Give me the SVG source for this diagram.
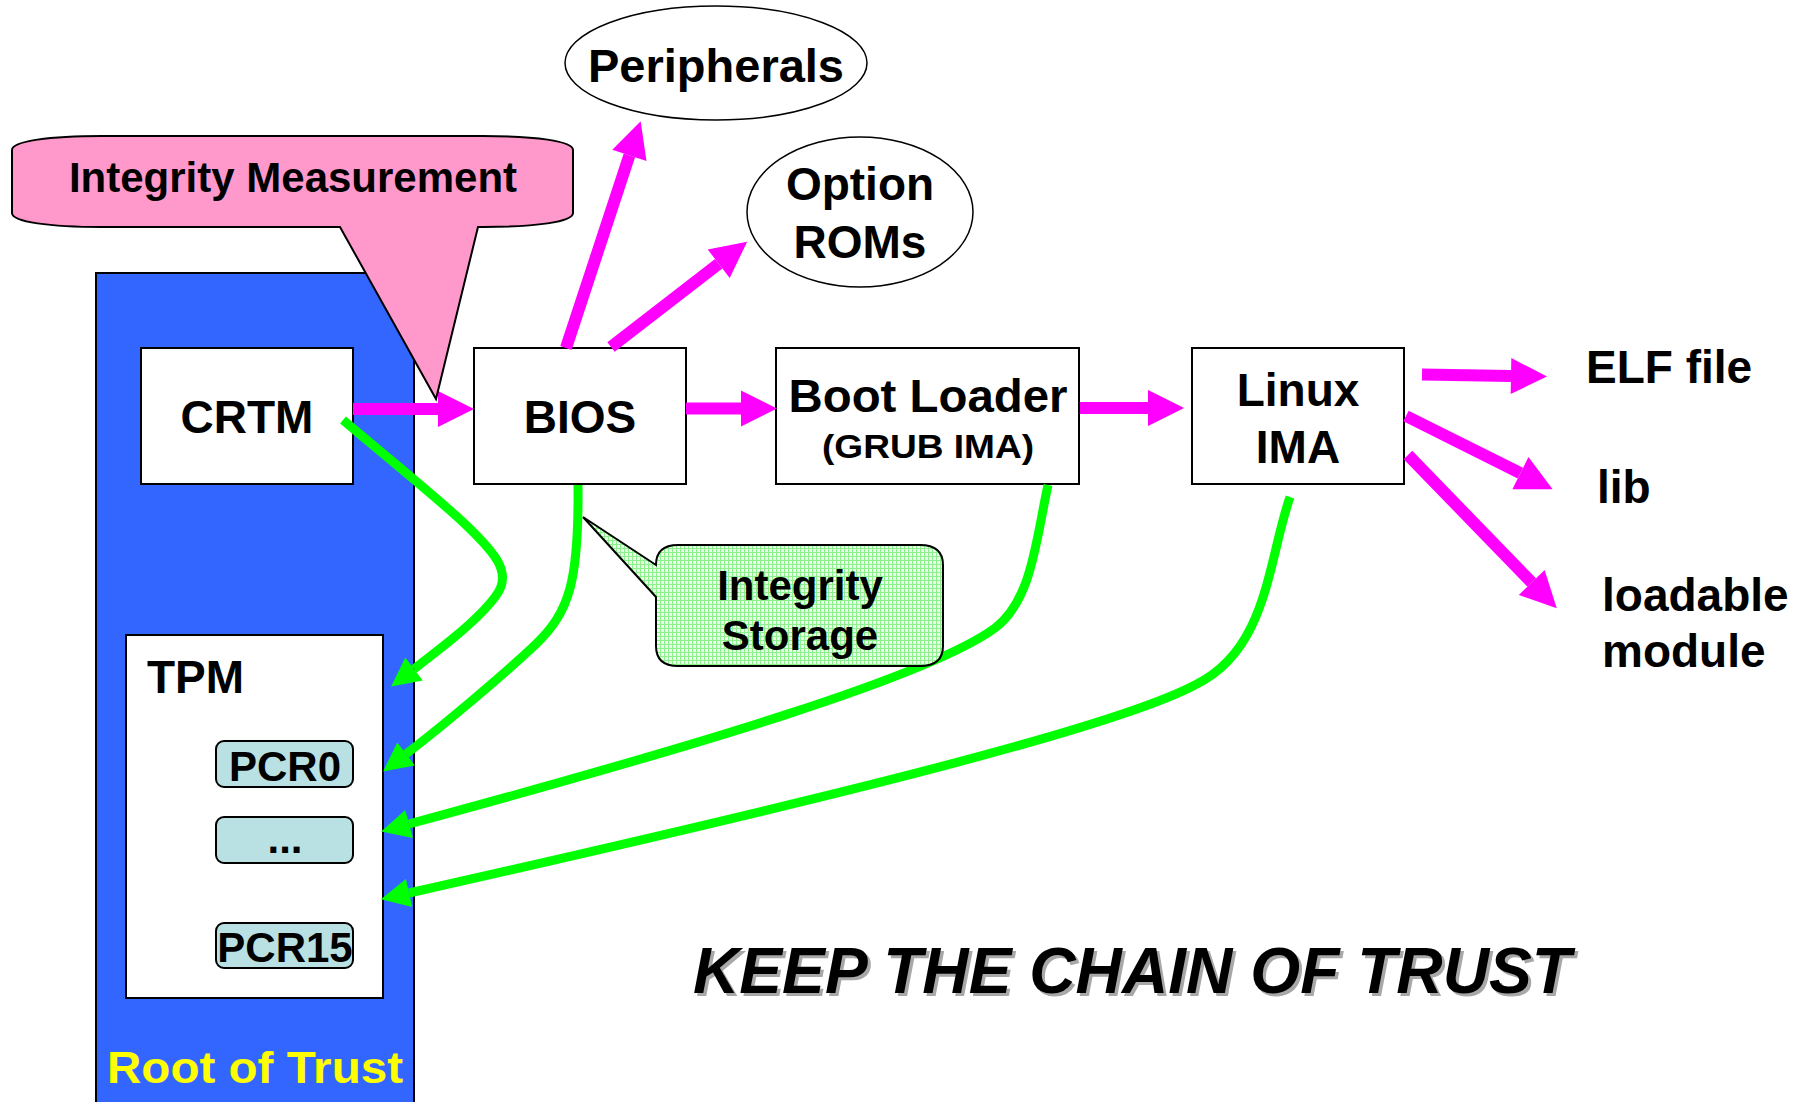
<svg xmlns="http://www.w3.org/2000/svg" width="1807" height="1102" viewBox="0 0 1807 1102">
<style>
.t{font-family:"Liberation Sans",Arial,sans-serif;font-weight:bold;fill:#000}
.c{text-anchor:middle}
.box{fill:#fff;stroke:#000;stroke-width:2}
.pcr{fill:#b9e0e3;stroke:#000;stroke-width:2}
.ell{fill:#fff;stroke:#000;stroke-width:1.5}
.mg{stroke:#ff00ff;stroke-width:12;fill:none;marker-end:url(#mh)}
.gr{stroke:#00ff00;stroke-width:9;fill:none;marker-end:url(#gh)}
</style>
<defs>
<marker id="mh" markerWidth="3" markerHeight="3" refX="0" refY="1.5" orient="auto" markerUnits="strokeWidth" overflow="visible"><path d="M0,0 L3,1.5 L0,3 Z" fill="#ff00ff"/></marker>
<marker id="gh" markerWidth="3.2" markerHeight="3.2" refX="0" refY="1.6" orient="auto" markerUnits="strokeWidth" overflow="visible"><path d="M0,0 L3.2,1.6 L0,3.2 Z" fill="#00ff00"/></marker>
<pattern id="grid" width="4" height="4" patternUnits="userSpaceOnUse"><rect width="4" height="4" fill="#e6ffe6"/><rect width="1" height="4" fill="#8cf08c"/><rect width="4" height="1" fill="#8cf08c"/></pattern>
</defs>

<g id="root-of-trust">
<rect x="96" y="273" width="318" height="840" fill="#3366ff" stroke="#000" stroke-width="2"/>
<text class="t" x="107" y="1083" font-size="44" style="fill:#ffff00" textLength="296" lengthAdjust="spacingAndGlyphs">Root of Trust</text>
</g>

<g id="crtm">
<rect class="box" x="141" y="348" width="212" height="136"/>
<text class="t c" x="247" y="433" font-size="46">CRTM</text>
</g>

<g id="tpm">
<rect class="box" x="126" y="635" width="257" height="363"/>
<text class="t" x="147" y="693" font-size="46">TPM</text>
</g>
<g id="pcr0">
<rect class="pcr" x="216" y="741" width="137" height="46" rx="8"/>
<text class="t c" x="285" y="781" font-size="42">PCR0</text>
</g>
<g id="pcr-dots">
<rect class="pcr" x="216" y="817" width="137" height="46" rx="8"/>
<text class="t c" x="285" y="853" font-size="42">...</text>
</g>
<g id="pcr15">
<rect class="pcr" x="216" y="923" width="137" height="45" rx="8"/>
<text class="t c" x="285" y="962" font-size="42">PCR15</text>
</g>

<g id="bios">
<rect class="box" x="474" y="348" width="212" height="136"/>
<text class="t c" x="580" y="433" font-size="46">BIOS</text>
</g>

<g id="boot-loader">
<rect class="box" x="776" y="348" width="303" height="136"/>
<text class="t c" x="928" y="412" font-size="46" textLength="279" lengthAdjust="spacingAndGlyphs">Boot Loader</text>
<text class="t c" x="928" y="458" font-size="33" textLength="212" lengthAdjust="spacingAndGlyphs">(GRUB IMA)</text>
</g>

<g id="linux-ima">
<rect class="box" x="1192" y="348" width="212" height="136"/>
<text class="t c" x="1298" y="406" font-size="46">Linux</text>
<text class="t c" x="1298" y="463" font-size="46">IMA</text>
</g>

<g id="peripherals">
<ellipse class="ell" cx="716" cy="63" rx="151" ry="57"/>
<text class="t c" x="716" y="82" font-size="47">Peripherals</text>
</g>

<g id="option-roms">
<ellipse class="ell" cx="860" cy="212" rx="113" ry="75"/>
<text class="t c" x="860" y="200" font-size="46">Option</text>
<text class="t c" x="860" y="258" font-size="46">ROMs</text>
</g>

<g id="elf-file"><text class="t" x="1586" y="383" font-size="46">ELF file</text></g>
<g id="lib"><text class="t" x="1597" y="503" font-size="46">lib</text></g>
<g id="loadable-module">
<text class="t" x="1602" y="611" font-size="46">loadable</text>
<text class="t" x="1602" y="667" font-size="46">module</text>
</g>

<g id="connectors">
<path class="mg" d="M353,409 L438,409"/>
<path class="mg" d="M686,408.5 L741,408.5"/>
<path class="mg" d="M1080,408 L1148,408"/>
<path class="mg" d="M566,348 L629.4,155.4"/>
<path class="mg" d="M611,347 L718.7,263.7"/>
<path class="mg" d="M1422,374.5 L1511,376"/>
<path class="mg" d="M1406,416 L1520.4,473.2"/>
<path class="mg" d="M1408,455 L1531.7,582.5"/>
<path class="gr" d="M343,420 C420,485 478,530 497,560 C510,582 498,595 484,610 C465,630 440,649 414,669"/>
<path class="gr" d="M578,485 C579,580 570,612 535,645 C500,678 440,728 406,754"/>
<path class="gr" d="M1048,485 C1036,540 1032,600 995,628 C930,676 700,745 409,824"/>
<path class="gr" d="M1290,497 C1268,560 1268,650 1195,685 C1110,730 800,805 409,893"/>
</g>

<g id="integrity-measurement">
<path d="M12,150 C12,141 50,136 102,136 L483,136 C535,136 573,141 573,150 L573,213 C573,222 535,227 483,227 L478,227 L436,399 L340,227 L102,227 C50,227 12,222 12,213 Z" fill="#ff99cc" stroke="#000" stroke-width="2"/>
<text class="t c" x="293" y="192" font-size="42">Integrity Measurement</text>
</g>

<g id="integrity-storage">
<path d="M678,545 L920,545 Q943,545 943,565 L943,646 Q943,666 920,666 L678,666 Q656,666 656,646 L656,597 L583,517 L656,565 Q656,545 678,545 Z" fill="url(#grid)" stroke="#000" stroke-width="2"/>
<text class="t c" x="800" y="600" font-size="42">Integrity</text>
<text class="t c" x="800" y="650" font-size="42">Storage</text>
</g>

<g id="slogan">
<text class="t" x="696" y="996" font-size="64" font-style="italic" style="fill:#a8a8a8" textLength="878" lengthAdjust="spacingAndGlyphs">KEEP THE CHAIN OF TRUST</text>
<text class="t" x="693" y="993" font-size="64" font-style="italic" textLength="878" lengthAdjust="spacingAndGlyphs">KEEP THE CHAIN OF TRUST</text>
</g>
</svg>
